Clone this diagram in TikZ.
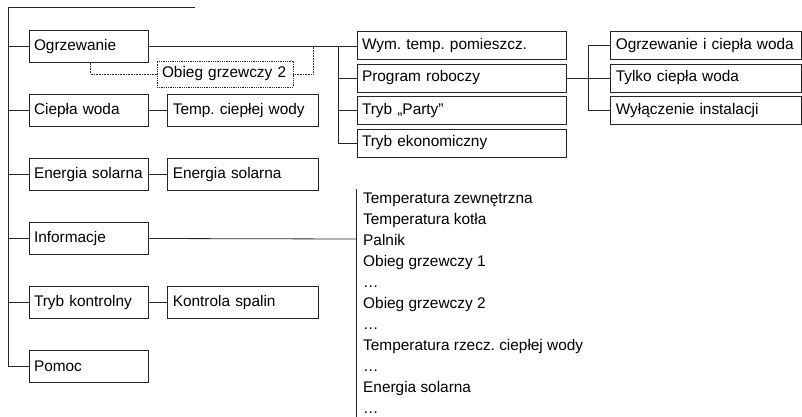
\documentclass[tikz,border=0pt]{standalone}
\usepackage{fontspec}
\setmainfont{Liberation Sans}
\usetikzlibrary{positioning}
\frenchspacing

\begin{document}
\begin{tikzpicture}[x=1pt, y=-1pt, node distance=31.2pt, font=\fontsize{15.4}{18}\selectfont]
    % Style
    \tikzstyle{menu}=[rectangle, draw=black!85, line width=0.8pt, minimum height=32pt, text width=109pt, inner xsep=5pt, inner ysep=0pt, align=left]
    \tikzstyle{podmenu}=[menu, text width=141pt]
    \tikzstyle{opcja}=[menu, minimum height=28pt, text width=199pt]
    \tikzstyle{tryb}=[menu, minimum height=28pt, text width=181pt]
    \tikzstyle{obieg}=[menu, densely dotted, line width=0.6pt, minimum height=26pt, text width=126pt]
    \tikzstyle{wpis}=[anchor=base west, inner sep=0pt]
    \tikzstyle{linia}=[draw=black!85, line width=0.8pt]
    \tikzstyle{kropki}=[draw=black!85, line width=0.6pt, densely dotted]

    \useasboundingbox (0,0) rectangle (802,417);

    % Menu glowne
    \node (ogrzewanie) [menu] at (88.5,46.5) {Ogrzewanie};
    \node (cieplawoda) [menu, below=of ogrzewanie] {Ciepła woda};
    \node (solar) [menu, below=of cieplawoda] {Energia solarna};
    \node (informacje) [menu, below=of solar] {Informacje};
    \node (kontrolny) [menu, below=of informacje] {Tryb kontrolny};
    \node (pomoc) [menu, below=of kontrolny] {Pomoc};

    % Podmenu
    \node (tempcw) [podmenu, right=19pt of cieplawoda] {Temp. ciepłej wody};
    \node (solar2) [podmenu, right=19pt of solar] {Energia solarna};
    \node (spaliny) [podmenu, right=19pt of kontrolny] {Kontrola spalin};
    \node (obieg2) [obieg] at (225,74) {Obieg grzewczy 2};

    % Ogrzewanie
    \node (wym) [opcja] at (461.5,45.5) {Wym. temp. pomieszcz.};
    \node (program) [opcja, below=3.7pt of wym] {Program roboczy};
    \node (party) [opcja, below=3.7pt of program] {Tryb „Party”};
    \node (ekon) [opcja, below=3.7pt of party] {Tryb ekonomiczny};

    % Program roboczy
    \node (tylko) [tryb, right=44pt of program] {Tylko ciepła woda};
    \node (ogrzcw) [tryb, above=3.7pt of tylko] {Ogrzewanie i ciepła woda};
    \node (wylacz) [tryb, below=3.7pt of tylko] {Wyłączenie instalacji};

    % Informacje
    \node (zewn) [wpis] at (363,203.5) {Temperatura zewnętrzna};
    \node (kotla) [wpis] at (363,224.5) {Temperatura kotła};
    \node (palnik) [wpis] at (363,245.5) {Palnik};
    \node (obieg1) [wpis] at (363,266.5) {Obieg grzewczy 1};
    \node (kropki1) [wpis] at (363,287.5) {\dots};
    \node (obieg2i) [wpis] at (363,308.5) {Obieg grzewczy 2};
    \node (kropki2) [wpis] at (363,329.5) {\dots};
    \node (rzecz) [wpis] at (363,350.5) {Temperatura rzecz. ciepłej wody};
    \node (kropki3) [wpis] at (363,371.5) {\dots};
    \node (solar3) [wpis] at (363,392.5) {Energia solarna};
    \node (kropki4) [wpis] at (363,413.5) {\dots};

    % Punkty pomocnicze
    \coordinate (korzen) at (8,7);
    \coordinate (tytul) at (195,7);
    \coordinate (szyna1) at (338,0);
    \coordinate (szyna2) at (588,0);
    \coordinate (obiegwez) at (313,0);
    \coordinate (infobus) at (356,239);
    \coordinate (infogora) at (356,189);
    \coordinate (infodol) at (356,417);

    % Polaczenia
    \draw [linia] (tytul) -- (korzen) |- (pomoc.west);
    \draw [linia] (korzen) |- (ogrzewanie.west);
    \draw [linia] (korzen) |- (cieplawoda.west);
    \draw [linia] (korzen) |- (solar.west);
    \draw [linia] (korzen) |- (informacje.west);
    \draw [linia] (korzen) |- (kontrolny.west);
    \draw [linia] (cieplawoda) -- (tempcw);
    \draw [linia] (solar) -- (solar2);
    \draw [linia] (kontrolny) -- (spaliny);
    \draw [linia] (ogrzewanie.east) -- (ogrzewanie.east -| wym.west);
    \draw [linia] (ogrzewanie.east -| szyna1) |- (program.west);
    \draw [linia] (ogrzewanie.east -| szyna1) |- (party.west);
    \draw [linia] (ogrzewanie.east -| szyna1) |- (ekon.west);
    \draw [linia] (program) -- (tylko);
    \draw [linia] (program.east -| szyna2) |- (ogrzcw.west);
    \draw [linia] (program.east -| szyna2) |- (wylacz.west);
    \draw [kropki] ([xshift=62pt]ogrzewanie.south west) |- (obieg2.west);
    \draw [kropki] (obieg2.east) -| (ogrzewanie.east -| obiegwez);
    \draw [linia] (informacje.east) -- (infobus);
    \draw [linia] (infogora) -- (infodol);

\end{tikzpicture}
\end{document}
